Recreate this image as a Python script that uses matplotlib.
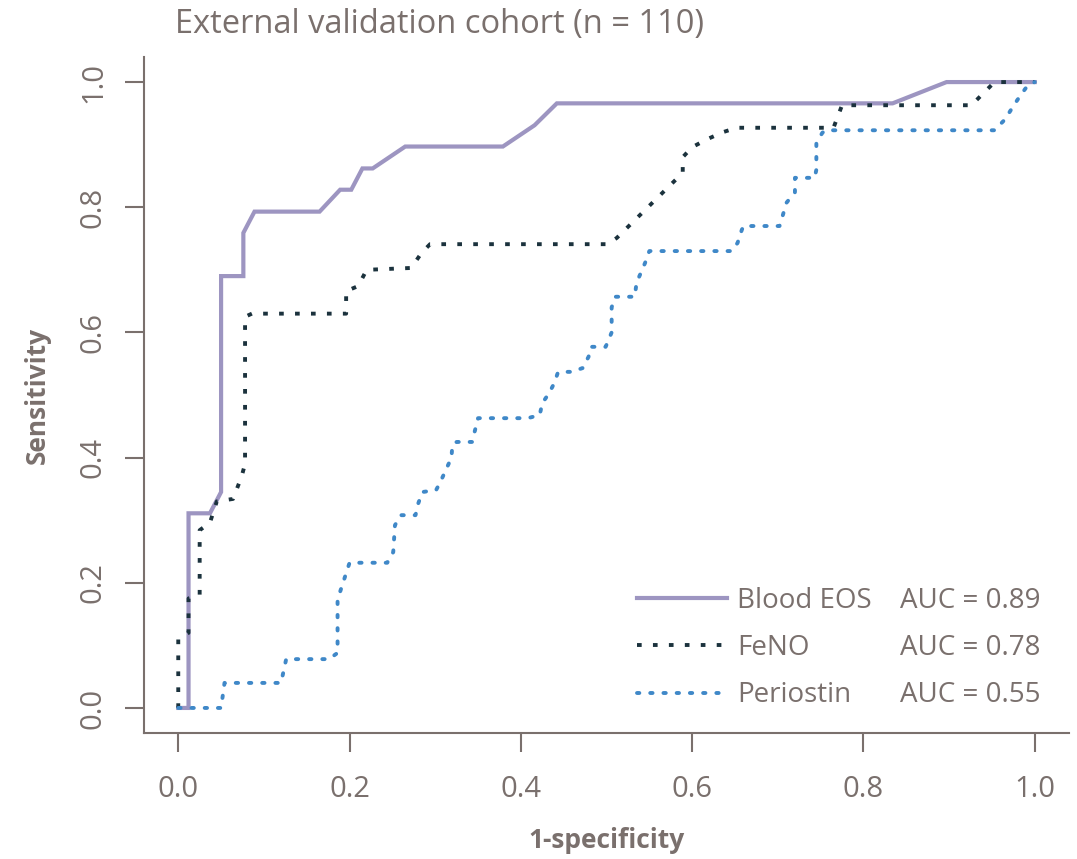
import matplotlib
matplotlib.use("Agg")
import matplotlib.pyplot as plt
from matplotlib.lines import Line2D

plt.rcParams['font.family'] = ['Open Sans', 'DejaVu Sans']

TXT = '#7a706d'

# ROC curves: (1-specificity, sensitivity)
fpr_eos = [0, 0.012, 0.012, 0.037, 0.05, 0.05, 0.076, 0.076, 0.089, 0.165, 0.189,
           0.202, 0.215, 0.227, 0.265, 0.379, 0.416, 0.442, 0.834, 0.897, 1.0]
tpr_eos = [0, 0, 0.311, 0.311, 0.345, 0.690, 0.690, 0.759, 0.793, 0.793, 0.828,
           0.828, 0.862, 0.862, 0.897, 0.897, 0.931, 0.966, 0.966, 1.0, 1.0]

fpr_feno = [0, 0, 0.012, 0.012, 0.025, 0.025, 0.037, 0.045, 0.064, 0.074, 0.078, 0.078,
            0.086, 0.196, 0.196, 0.21, 0.22, 0.272, 0.284, 0.294, 0.501, 0.512, 0.589,
            0.589, 0.60, 0.618, 0.636, 0.652, 0.765, 0.775, 0.926, 0.953, 1.0]
tpr_feno = [0, 0.11, 0.12, 0.175, 0.18, 0.284, 0.296, 0.33, 0.334, 0.37, 0.39, 0.625,
            0.63, 0.63, 0.666, 0.674, 0.70, 0.703, 0.727, 0.741, 0.741, 0.751, 0.855,
            0.88, 0.896, 0.909, 0.92, 0.927, 0.927, 0.963, 0.963, 1.0, 1.0]

fpr_peri = [0, 0.05, 0.054, 0.12, 0.126, 0.176, 0.186, 0.186, 0.19, 0.20, 0.244, 0.251,
            0.253, 0.26, 0.277, 0.28, 0.285, 0.301, 0.306, 0.319, 0.32, 0.325, 0.343,
            0.348, 0.35, 0.408, 0.422, 0.425, 0.433, 0.439, 0.443, 0.445, 0.459, 0.472,
            0.479, 0.482, 0.499, 0.506, 0.506, 0.51, 0.533, 0.535, 0.545, 0.55, 0.646,
            0.653, 0.658, 0.66, 0.702, 0.706, 0.71, 0.72, 0.72, 0.743, 0.745, 0.745,
            0.752, 0.756, 0.953, 0.965, 0.977, 0.985, 0.992, 1.0]
tpr_peri = [0, 0, 0.04, 0.04, 0.078, 0.078, 0.088, 0.173, 0.19, 0.232, 0.232, 0.249,
            0.292, 0.308, 0.308, 0.326, 0.345, 0.348, 0.361, 0.40, 0.42, 0.425, 0.425,
            0.452, 0.463, 0.463, 0.468, 0.487, 0.503, 0.519, 0.535, 0.537, 0.537, 0.543,
            0.561, 0.577, 0.577, 0.60, 0.64, 0.657, 0.657, 0.679, 0.711, 0.73, 0.73,
            0.743, 0.764, 0.77, 0.77, 0.788, 0.807, 0.824, 0.847, 0.847, 0.86, 0.903,
            0.919, 0.923, 0.923, 0.94, 0.966, 0.982, 0.995, 1.0]

names = ['Blood EOS', 'FeNO', 'Periostin']
aucs = ['AUC = 0.89', 'AUC = 0.78', 'AUC = 0.55']
colors = ['#9d95c1', '#1b323d', '#3f88c8']

xticks = [0.0, 0.2, 0.4, 0.6, 0.8, 1.0]
yticks = [0.0, 0.2, 0.4, 0.6, 0.8, 1.0]

fig = plt.figure(figsize=(10.77, 8.59), dpi=100)
ax = fig.add_axes([0.1337, 0.1467, 0.8589, 0.7869])

l1, = ax.plot(fpr_eos, tpr_eos, color=colors[0], lw=3.0, solid_joinstyle='miter')
l2, = ax.plot(fpr_feno, tpr_feno, color=colors[1], lw=2.8, linestyle=(0, (1.2, 2.9)),
              dash_capstyle='butt')
l3, = ax.plot(fpr_peri, tpr_peri, color=colors[2], lw=2.8, linestyle=(0, (0.6, 2.8)),
              dash_capstyle='round')

ax.set_xlim(-0.04, 1.04)
ax.set_ylim(-0.04, 1.04)
for s in ['top', 'right']:
    ax.spines[s].set_visible(False)
for s in ['left', 'bottom']:
    ax.spines[s].set_color(TXT)
    ax.spines[s].set_linewidth(1.5)

ax.set_xticks(xticks)
ax.set_xticklabels(['%.1f' % v for v in xticks])
ax.set_yticks(yticks)
ax.set_yticklabels(['%.1f' % v for v in yticks], rotation=90, va='center')
ax.tick_params(axis='both', direction='out', length=14, width=1.5, color=TXT,
               labelcolor=TXT, labelsize=21)
ax.tick_params(axis='x', pad=16)
ax.tick_params(axis='y', pad=12)

ax.set_xlabel('1-specificity', fontsize=19, fontweight='bold', color=TXT, labelpad=17)
ax.set_ylabel('Sensitivity', fontsize=19, fontweight='bold', color=TXT, labelpad=20)

fig.text(175 / 1077, 1 - 25 / 859, 'External validation cohort (n = 110)',
         fontsize=23.5, color=TXT, ha='left', va='center')

leg1 = ax.legend([l1, l2, l3], names, loc='lower left', bbox_to_anchor=(0.533, 0.035),
                 frameon=False, fontsize=20, handlelength=3.25, handletextpad=0.36,
                 labelspacing=0.69, labelcolor=TXT, borderpad=0, borderaxespad=0)
ax.add_artist(leg1)
blank = [Line2D([], [], linestyle='none') for _ in aucs]
ax.legend(blank, aucs, loc='lower left', bbox_to_anchor=(0.817, 0.035), frameon=False,
          fontsize=20, handlelength=0, handletextpad=0, labelspacing=0.69,
          labelcolor=TXT, borderpad=0, borderaxespad=0)

fig.savefig('out.png', dpi=100)
